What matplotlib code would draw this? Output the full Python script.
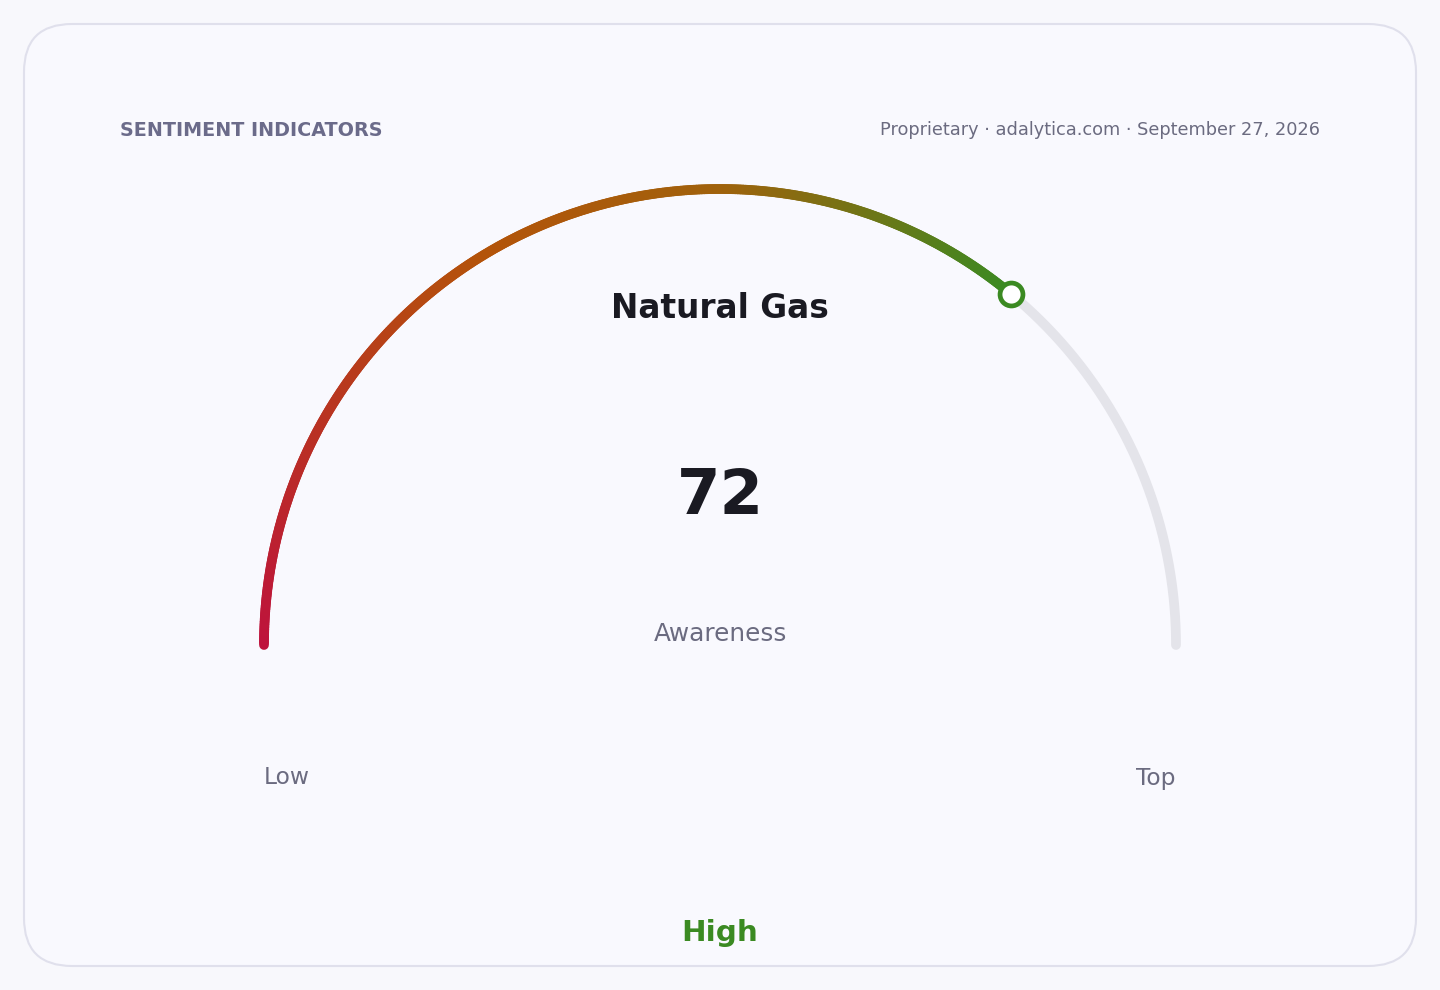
import numpy as np
import matplotlib
matplotlib.use("Agg")
import matplotlib.pyplot as plt
from matplotlib.collections import LineCollection
from matplotlib.colors import LinearSegmentedColormap
from matplotlib.patches import FancyBboxPatch

# data
title = "Natural Gas"
metric = "Awareness"
value = 72
vmin, vmax = 0, 100
low_label, high_label = "Low", "Top"
band_label = "High"
header_left = "SENTIMENT INDICATORS"
header_right = "Proprietary \u00b7 adalytica.com \u00b7 September 27, 2026"

# gradient stops along the filled part (fraction of value)
grad_pos = [0.0, 0.45, 0.7, 1.0]
grad_cols = ["#be123c", "#b4530a", "#a0620c", "#3b8a22"]

fig = plt.figure(figsize=(14.4, 9.9), dpi=100)
fig.patch.set_facecolor("#f8f8fc")
ax = fig.add_axes([0, 0, 1, 1])
ax.set_xlim(0, 1440)
ax.set_ylim(990, 0)
ax.set_aspect("equal")
ax.axis("off")

card = FancyBboxPatch((24, 24), 1392, 942, boxstyle="round,pad=0,rounding_size=48",
                      facecolor="#f9f9fe", edgecolor="#e0e0ec", linewidth=1.5)
ax.add_patch(card)

cx, cy, r = 720, 645, 456
frac = (value - vmin) / (vmax - vmin)
ang_end = np.pi * (1 - frac)
lw = 7

# track
t = np.linspace(ang_end, 0, 200)
ax.plot(cx + r * np.cos(t), cy - r * np.sin(t), color="#e4e4ea", lw=lw,
        solid_capstyle="round", zorder=2)

# gradient arc
n = 400
t = np.linspace(np.pi, ang_end, n)
xs = cx + r * np.cos(t)
ys = cy - r * np.sin(t)
pts = np.column_stack([xs, ys]).reshape(-1, 1, 2)
segs = np.concatenate([pts[:-1], pts[1:]], axis=1)
cmap = LinearSegmentedColormap.from_list("g", list(zip(grad_pos, grad_cols)))
lc = LineCollection(segs, colors=cmap(np.linspace(0, 1, n - 1)), linewidths=lw,
                    capstyle="round", zorder=3)
ax.add_collection(lc)

# marker
ax.plot(cx + r * np.cos(ang_end), cy - r * np.sin(ang_end), "o", ms=16.5,
        mfc="white", mec=grad_cols[-1], mew=3.4, zorder=4)

# text
ax.text(120, 130, header_left, fontsize=13.8, fontweight="bold", color="#6b6b8a",
        ha="left", va="center")
ax.text(1320, 130, header_right, fontsize=12.8, color="#6b6b80", ha="right", va="center")
ax.text(cx, 309, title, fontsize=23.6, fontweight="bold", color="#1a1a22",
        ha="center", va="center")
ax.text(cx, 497, f"{value}", fontsize=45, fontweight="bold", color="#1a1a22",
        ha="center", va="center")
ax.text(cx, 634, metric, fontsize=17.8, color="#6b6b80", ha="center", va="center")
ax.text(cx - r, 778, low_label, fontsize=16.8, color="#6b6b80", ha="left", va="center")
ax.text(cx + r, 778, high_label, fontsize=16.8, color="#6b6b80", ha="right", va="center")
ax.text(cx, 933, band_label, fontsize=21.2, fontweight="bold", color=grad_cols[-1],
        ha="center", va="center")

fig.savefig("out.png", dpi=100, facecolor=fig.get_facecolor())
